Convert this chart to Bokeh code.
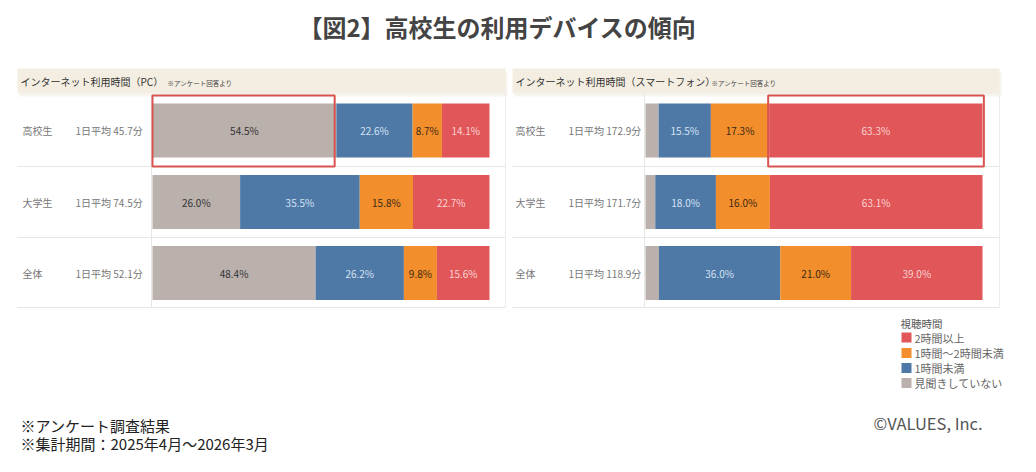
from bokeh.plotting import figure
from bokeh.models import Range1d, ColumnDataSource
from bokeh.core.properties import value
from bokeh.embed import file_html
from bokeh.resources import INLINE

# ---------------- data ----------------
groups = ["高校生", "大学生", "全体"]
pc_avg_min = [45.7, 74.5, 52.1]
sp_avg_min = [172.9, 171.7, 118.9]

series_names = ["見聞きしていない", "1時間未満", "1時間～2時間未満", "2時間以上"]
pc_none = [54.5, 26.0, 48.4]
pc_lt1 = [22.6, 35.5, 26.2]
pc_1to2 = [8.7, 15.8, 9.8]
pc_ge2 = [14.1, 22.7, 15.6]
sp_none = [3.9, 2.9, 4.0]
sp_lt1 = [15.5, 18.0, 36.0]
sp_1to2 = [17.3, 16.0, 21.0]
sp_ge2 = [63.3, 63.1, 39.0]

title = "【図2】高校生の利用デバイスの傾向"
pc_header = "インターネット利用時間（PC）"
sp_header = "インターネット利用時間（スマートフォン）"
note = "※アンケート回答より"
legend_title = "視聴時間"
footer1 = "※アンケート調査結果"
footer2 = "※集計期間：2025年4月～2026年3月"
credit = "©VALUES, Inc."

# ---------------- styles ----------------
COLORS = ["#BAB0AC", "#4E79A7", "#F28E2B", "#E15759"]
LABEL_COLORS = ["#333333", "#d3e2f2", "#3a2a14", "#fbd3d3"]
JP = value("Noto Sans CJK JP")

W, H = 1036, 472
p = figure(width=W, height=H, x_range=Range1d(0, W), y_range=Range1d(H, 0),
           output_backend="svg", toolbar_location=None, min_border=0,
           background_fill_color="white", border_fill_color="white")
p.axis.visible = False
p.grid.visible = False
p.outline_line_color = None

def add_pct_range(name, px0, px1):
    sc = (px1 - px0) / 100.0
    start = -px0 / sc
    p.extra_x_ranges[name] = Range1d(start, start + W / sc)

add_pct_range("pc", 152, 489)
add_pct_range("sp", 645, 982)

row_y = [130, 201.5, 272.5]
bar_h = 54

panels = [
    dict(x0=17, x1=505, bar_x0=151, header=pc_header, note_x=167, lab_x=22, avg_x=75, avg=pc_avg_min),
    dict(x0=512, x1=999, bar_x0=644, header=sp_header, note_x=711, lab_x=515, avg_x=568, avg=sp_avg_min),
]
for pn in panels:
    p.quad(left=pn["x0"] + 2, right=pn["x1"] + 2, top=71, bottom=96, fill_color="#ebe6da",
           fill_alpha=0.45, line_color=None)
    p.quad(left=pn["x0"], right=pn["x1"], top=68, bottom=93, fill_color="#f3eee1", line_color=None)
    p.text(x=[pn["x0"] + 3], y=[81], text=[pn["header"]], text_font=JP, text_font_size="10px",
           text_color="#333333", text_baseline="middle")
    p.text(x=[pn["note_x"]], y=[82], text=[note], text_font=JP, text_font_size="6.5px",
           text_color="#444444", text_baseline="middle")
    for yy in [166, 237, 307]:
        p.segment(x0=[pn["x0"]], x1=[pn["x1"]], y0=[yy], y1=[yy], line_color="#e6e6e6", line_width=1)
    p.segment(x0=[pn["bar_x0"]], x1=[pn["bar_x0"]], y0=[94], y1=[307], line_color="#e6e6e6", line_width=1)
    p.segment(x0=[pn["x1"]], x1=[pn["x1"]], y0=[94], y1=[307], line_color="#ececec", line_width=1)
    p.text(x=[pn["lab_x"]] * 3, y=row_y, text=groups, text_font=JP, text_font_size="10px",
           text_color="#777777", text_baseline="middle")
    p.text(x=[pn["avg_x"]] * 3, y=row_y, text=[f"1日平均 {v}分" for v in pn["avg"]], text_font=JP,
           text_font_size="10px", text_color="#777777", text_baseline="middle")

for rng, data, show_first in [("pc", [pc_none, pc_lt1, pc_1to2, pc_ge2], True),
                              ("sp", [sp_none, sp_lt1, sp_1to2, sp_ge2], False)]:
    totals = [sum(d[i] for d in data) for i in range(3)]
    cum = [0.0, 0.0, 0.0]
    for k, d in enumerate(data):
        left = [cum[i] / totals[i] * 100 for i in range(3)]
        right = [(cum[i] + d[i]) / totals[i] * 100 for i in range(3)]
        src = ColumnDataSource(dict(y=row_y, left=left, right=right,
                                    mid=[(l + r) / 2 for l, r in zip(left, right)],
                                    lab=[f"{v:.1f}%" for v in d]))
        p.hbar(y="y", left="left", right="right", height=bar_h, source=src, x_range_name=rng,
               fill_color=COLORS[k], line_color=None)
        if k > 0 or show_first:
            p.text(x="mid", y="y", text="lab", source=src, x_range_name=rng, text_font=JP,
                   text_font_size="10px", text_color=LABEL_COLORS[k], text_align="center",
                   text_baseline="middle")
        cum = [cum[i] + d[i] for i in range(3)]

# highlight boxes
pc_tot0 = pc_none[0] + pc_lt1[0] + pc_1to2[0] + pc_ge2[0]
p.quad(left=[0], right=[pc_none[0] / pc_tot0 * 100 - 0.5], top=[95], bottom=[166], x_range_name="pc",
       fill_color=None, line_color="#d9534f", line_width=2)
sp_tot0 = sp_none[0] + sp_lt1[0] + sp_1to2[0] + sp_ge2[0]
p.quad(left=[(sp_none[0] + sp_lt1[0] + sp_1to2[0]) / sp_tot0 * 100 - 0.3], right=[100.4], top=[95],
       bottom=[166], x_range_name="sp", fill_color=None, line_color="#d9534f", line_width=2)

# legend (manual)
order = [3, 2, 1, 0]
leg_y = [337, 352.5, 367.5, 382.5]
p.text(x=[900], y=[322.5], text=[legend_title], text_font=JP, text_font_size="10.5px",
       text_color="#555555", text_baseline="middle")
p.rect(x=[906] * 4, y=leg_y, width=10, height=10, fill_color=[COLORS[k] for k in order], line_color=None)
p.text(x=[914] * 4, y=leg_y, text=[series_names[k] for k in order], text_font=JP,
       text_font_size="11px", text_color="#666666", text_baseline="middle")

# title & footers
p.text(x=[497], y=[26], text=[title], text_font=JP, text_font_size="24px", text_font_style="bold",
       text_color="#444444", text_align="center", text_baseline="middle")
p.text(x=[20, 20], y=[425, 443], text=[footer1, footer2], text_font=JP, text_font_size="15px",
       text_color="#222222", text_baseline="middle")
p.text(x=[873], y=[422], text=[credit], text_font=JP, text_font_size="16.5px", text_color="#555555",
       text_baseline="middle")

open("out.html", "w").write(file_html(p, INLINE))
